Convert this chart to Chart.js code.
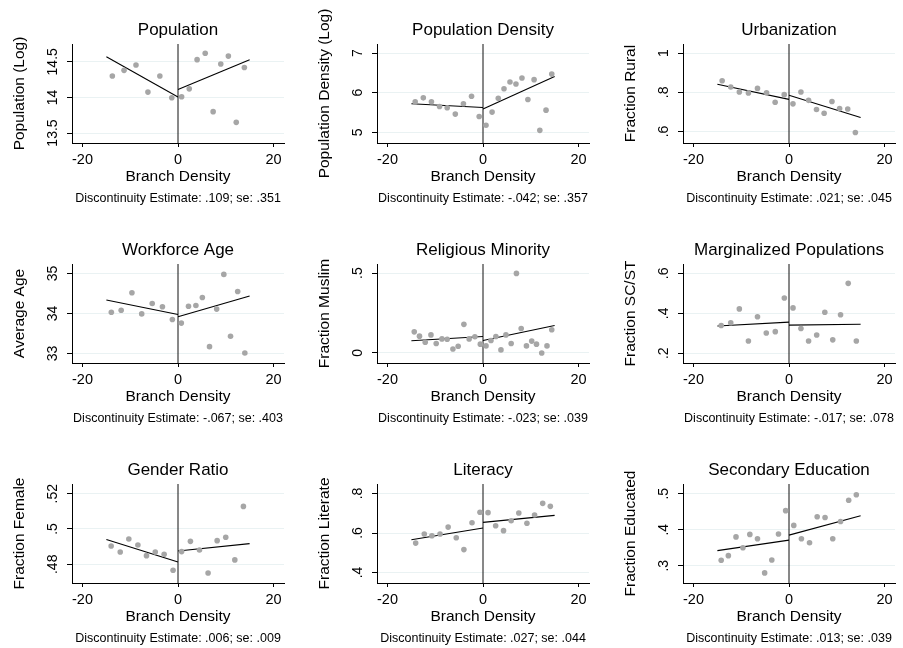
<!DOCTYPE html>
<html>
<head>
<meta charset="utf-8">
<script src="https://cdn.jsdelivr.net/npm/chart.js@4.4.1/dist/chart.umd.min.js"></script>
<style>
    html, body { margin: 0; padding: 0; background: #fff; }
    body { width: 903px; height: 648px; position: relative; overflow: hidden; }
    .panel { position: absolute; width: 292px; height: 216px; }
</style>
</head>
<body>
<div id="grid"></div>
<script>
// Panel labels
const titles = ['Population', 'Population Density', 'Urbanization', 'Workforce Age', 'Religious Minority',
    'Marginalized Populations', 'Gender Ratio', 'Literacy', 'Secondary Education'];
const yTitles = ['Population (Log)', 'Population Density (Log)', 'Fraction Rural', 'Average Age', 'Fraction Muslim',
    'Fraction SC/ST', 'Fraction Female', 'Fraction Literate', 'Fraction Educated'];
const estimates = ['.109', '-.042', '.021', '-.067', '-.023', '-.017', '.006', '.027', '.013'];
const stdErrors = ['.351', '.357', '.045', '.403', '.039', '.078', '.009', '.044', '.039'];

// Binned means (branch density bin centre, outcome)
const populationX = [-13.75, -11.3, -8.8, -6.3, -3.8, -1.3, 0.76, 2.36, 4.0, 5.7, 7.36, 8.96, 10.55, 12.2, 13.9];
const populationY = [14.30, 14.38, 14.455, 14.075, 14.30, 13.995, 14.01, 14.12, 14.53, 14.62, 13.80, 14.47, 14.58, 13.65, 14.42];
const densityX = [-14.2, -12.5, -10.8, -9.1, -7.5, -5.8, -4.1, -2.4, -0.8, 0.63, 1.9, 3.2, 4.4, 5.65, 6.9, 8.16, 9.4, 10.7, 11.9, 13.2, 14.4];
const densityY = [5.77, 5.87, 5.77, 5.65, 5.62, 5.46, 5.72, 5.91, 5.40, 5.18, 5.51, 5.86, 6.10, 6.27, 6.22, 6.37, 5.83, 6.33, 5.05, 5.56, 6.47];
const ruralX = [-14.0, -12.2, -10.4, -8.5, -6.6, -4.7, -2.9, -1.0, 0.83, 2.5, 4.1, 5.76, 7.36, 9.0, 10.6, 12.3, 13.9];
const ruralY = [0.859, 0.827, 0.802, 0.797, 0.820, 0.798, 0.749, 0.788, 0.741, 0.802, 0.759, 0.712, 0.693, 0.753, 0.717, 0.715, 0.595];
const ageX = [-13.96, -11.9, -9.65, -7.6, -5.4, -3.26, -1.18, 0.7, 2.2, 3.75, 5.1, 6.6, 8.1, 9.6, 11.0, 12.5, 14.0];
const ageY = [34.03, 34.08, 34.52, 33.99, 34.25, 34.17, 33.85, 33.76, 34.18, 34.20, 34.40, 33.17, 34.11, 34.98, 33.43, 34.55, 33.01];
const muslimX = [-14.4, -13.3, -12.1, -10.9, -9.8, -8.6, -7.5, -6.3, -5.2, -4.0, -2.9, -1.7, -0.56, 0.63, 1.67, 2.7, 3.76,
    4.8, 5.9, 7.0, 8.0, 9.1, 10.2, 11.2, 12.3, 13.4, 14.4];
const muslimY = [0.132, 0.105, 0.067, 0.113, 0.059, 0.088, 0.086, 0.025, 0.042, 0.179, 0.088, 0.101, 0.055, 0.044, 0.078, 0.103, 0.019,
    0.113, 0.059, 0.498, 0.153, 0.044, 0.074, 0.055, 0.0, 0.044, 0.145];
const scstX = [-14.2, -12.2, -10.4, -8.5, -6.6, -4.76, -2.87, -0.98, 0.84, 2.5, 4.1, 5.8, 7.5, 9.16, 10.8, 12.4, 14.1];
const scstY = [0.339, 0.353, 0.422, 0.261, 0.383, 0.301, 0.308, 0.477, 0.427, 0.324, 0.261, 0.291, 0.405, 0.267, 0.393, 0.550, 0.261];
const femaleX = [-14.0, -12.1, -10.3, -8.4, -6.6, -4.76, -2.9, -1.03, 0.76, 2.6, 4.5, 6.3, 8.2, 10.0, 11.9, 13.7];
const femaleY = [0.4904, 0.4870, 0.4943, 0.4909, 0.4849, 0.4870, 0.4857, 0.4766, 0.4872, 0.4930, 0.4881, 0.4751, 0.4934, 0.4953, 0.4825, 0.5128];
const literateX = [-14.1, -12.3, -10.7, -9.0, -7.3, -5.6, -4.0, -2.3, -0.63, 1.05, 2.65, 4.3, 5.9, 7.5, 9.2, 10.8, 12.5, 14.1];
const literateY = [0.549, 0.595, 0.586, 0.595, 0.630, 0.576, 0.516, 0.652, 0.705, 0.703, 0.637, 0.612, 0.662, 0.701, 0.649, 0.691, 0.750, 0.735];
const educatedX = [-14.2, -12.7, -11.1, -9.65, -8.2, -6.6, -5.1, -3.6, -2.2, -0.7, 1.0, 2.6, 4.3, 5.9, 7.55, 9.16, 10.8, 12.5, 14.1];
const educatedY = [0.315, 0.328, 0.380, 0.350, 0.387, 0.375, 0.280, 0.316, 0.388, 0.453, 0.412, 0.375, 0.364, 0.436, 0.434, 0.375, 0.423, 0.482, 0.497];

// Linear fits either side of the cutoff: [value at -15, value at 0] and [value at 0, value at 15]
const fitLeftX = [-15, 0];
const fitRightX = [0, 15];
const fitLeftY = [[14.57, 14.005], [5.72, 5.625], [0.841, 0.764], [34.34, 33.975], [0.076, 0.103],
    [0.336, 0.356], [0.494, 0.4813], [0.566, 0.625], [0.342, 0.371]];
const fitRightY = [[14.11, 14.53], [5.59, 6.41], [0.785, 0.671], [33.92, 34.44], [0.078, 0.172],
    [0.341, 0.345], [0.4875, 0.4917], [0.654, 0.689], [0.385, 0.439]];

// Axes
const xTicks = [-20, 0, 20];
const xRange = [-22.2, 22.2];
const yMins = [13.36, 4.73, 0.541, 32.76, -0.063, 0.151, 0.4694, 0.347, 0.252];
const yMaxs = [14.75, 7.23, 1.047, 35.24, 0.557, 0.647, 0.5255, 0.848, 0.527];
const yTicks = [[13.5, 14, 14.5], [5, 6, 7], [0.6, 0.8, 1], [33, 34, 35], [0, 0.5],
    [0.2, 0.4, 0.6], [0.48, 0.5, 0.52], [0.4, 0.6, 0.8], [0.3, 0.4, 0.5]];
const yTickLabels = [['13.5', '14', '14.5'], ['5', '6', '7'], ['.6', '.8', '1'], ['33', '34', '35'], ['0', '.5'],
    ['.2', '.4', '.6'], ['.48', '.5', '.52'], ['.4', '.6', '.8'], ['.3', '.4', '.5']];

const panelX = [populationX, densityX, ruralX, ageX, muslimX, scstX, femaleX, literateX, educatedX];
const panelY = [populationY, densityY, ruralY, ageY, muslimY, scstY, femaleY, literateY, educatedY];

Chart.defaults.font.family = '"Liberation Sans", Arial, sans-serif';
Chart.defaults.color = '#000';

// Stata style rotated y tick labels
const rotatedYLabels = {
    id: 'rotatedYLabels',
    afterDraw(chart, args, opts) {
        const scale = chart.scales.y;
        const ctx = chart.ctx;
        ctx.save();
        ctx.font = '14px "Liberation Sans", Arial, sans-serif';
        ctx.fillStyle = '#000';
        ctx.textAlign = 'center';
        ctx.textBaseline = 'middle';
        opts.values.forEach((v, i) => {
            const y = scale.getPixelForValue(v);
            ctx.save();
            ctx.translate(chart.chartArea.left - 18.5, y);
            ctx.rotate(-Math.PI / 2);
            ctx.fillText(opts.labels[i], 0, 0);
            ctx.restore();
        });
        ctx.restore();
    }
};

function toPoints(xs, ys) {
    return xs.map((x, i) => ({ x: x, y: ys[i] }));
}

function buildPanel(i) {
    const col = i % 3;
    const row = Math.floor(i / 3);
    const div = document.createElement('div');
    div.className = 'panel';
    div.style.left = [0, 305, 611][col] + 'px';
    div.style.top = [0, 220, 440][row] + 'px';
    const canvas = document.createElement('canvas');
    canvas.width = 292;
    canvas.height = 216;
    div.appendChild(canvas);
    document.getElementById('grid').appendChild(div);

    new Chart(canvas.getContext('2d'), {
        type: 'scatter',
        data: {
            datasets: [{
                data: toPoints(panelX[i], panelY[i]),
                backgroundColor: '#a6a6a6',
                borderWidth: 0,
                pointRadius: 2.8
            }, {
                type: 'line',
                data: toPoints(fitLeftX, fitLeftY[i]),
                borderColor: '#000',
                borderWidth: 1.1,
                pointRadius: 0,
                fill: false
            }, {
                type: 'line',
                data: toPoints(fitRightX, fitRightY[i]),
                borderColor: '#000',
                borderWidth: 1.1,
                pointRadius: 0,
                fill: false
            }, {
                // cutoff line at zero
                type: 'line',
                data: [{ x: 0, y: yMins[i] }, { x: 0, y: yMaxs[i] }],
                borderColor: '#111',
                borderWidth: 1,
                pointRadius: 0,
                fill: false
            }]
        },
        options: {
            responsive: false,
            animation: false,
            events: [],
            layout: { padding: { left: 0, right: 8, top: 0, bottom: 0 } },
            scales: {
                x: {
                    type: 'linear',
                    min: xRange[0],
                    max: xRange[1],
                    afterBuildTicks: scale => { scale.ticks = xTicks.map(v => ({ value: v })); },
                    afterFit: scale => { scale.height = 46; },
                    ticks: { font: { size: 14.5 }, color: '#000', padding: 3.8, maxRotation: 0 },
                    grid: { display: true, drawOnChartArea: false, drawTicks: true, tickLength: 4, tickColor: '#000' },
                    border: { display: true, color: '#000', width: 1 },
                    title: { display: true, text: 'Branch Density', font: { size: 15.5 }, color: '#000', padding: { top: 0, bottom: 3 } }
                },
                y: {
                    type: 'linear',
                    min: yMins[i],
                    max: yMaxs[i],
                    afterBuildTicks: scale => { scale.ticks = yTicks[i].map(v => ({ value: v })); },
                    afterFit: scale => { scale.width = 72; },
                    ticks: { display: false },
                    grid: { display: true, drawOnChartArea: true, color: '#eaf2f3', drawTicks: true, tickLength: 5, tickColor: '#000' },
                    border: { display: true, color: '#000', width: 1 },
                    title: { display: true, text: yTitles[i], font: { size: 15.5 }, color: '#000', padding: { top: 10, bottom: 0 } }
                }
            },
            plugins: {
                legend: { display: false },
                tooltip: { enabled: false },
                title: {
                    display: true,
                    text: titles[i],
                    fullSize: false,
                    color: '#000',
                    font: { size: 17, weight: 'normal' },
                    padding: { top: 19.8, bottom: 3.8 }
                },
                subtitle: {
                    display: true,
                    text: 'Discontinuity Estimate: ' + estimates[i] + '; se: ' + stdErrors[i],
                    position: 'bottom',
                    fullSize: false,
                    color: '#000',
                    font: { size: 12.5, weight: 'normal' },
                    padding: { top: 2.5, bottom: 9.5 }
                },
                rotatedYLabels: { values: yTicks[i], labels: yTickLabels[i] }
            }
        },
        plugins: [rotatedYLabels]
    });
}

for (let i = 0; i < 9; i++) {
    buildPanel(i);
}
</script>
</body>
</html>
